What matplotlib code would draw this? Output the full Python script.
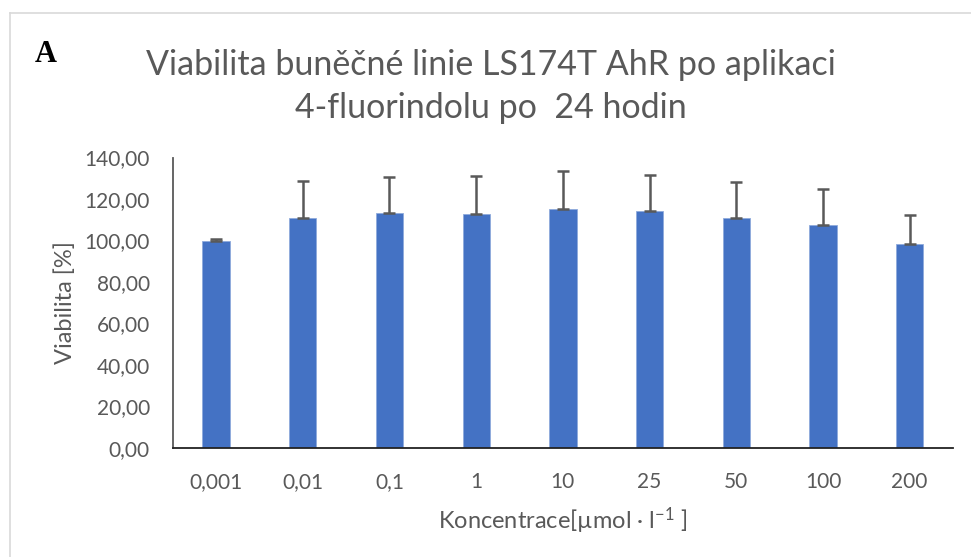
import matplotlib
matplotlib.use("Agg")
import matplotlib.pyplot as plt
from matplotlib.lines import Line2D

categories = ["0,001", "0,01", "0,1", "1", "10", "25", "50", "100", "200"]
viability = [100.0, 110.7, 113.3, 112.6, 115.2, 114.1, 110.8, 107.3, 98.2]
err_plus = [0.5, 18.0, 17.4, 18.6, 18.2, 17.5, 17.2, 17.5, 14.1]
yticks = [0, 20, 40, 60, 80, 100, 120, 140]

plt.rcParams['font.family'] = ['Lato', 'DejaVu Sans']
plt.rcParams['mathtext.fontset'] = 'custom'
plt.rcParams['mathtext.rm'] = 'Lato'
plt.rcParams['mathtext.default'] = 'regular'

gray = "#595959"
fig = plt.figure(figsize=(9.71, 5.57), dpi=100)
ax = fig.add_axes([0.1779, 0.1957, 0.8036, 0.5215])

x = list(range(len(categories)))
ax.bar(x, viability, width=0.315, color="#4472C4", edgecolor="#8FAADC", linewidth=0.6, zorder=2)
ax.errorbar(x, viability, yerr=[[0]*len(x), err_plus], fmt='none', ecolor=gray,
            elinewidth=1.8, capsize=4.3, capthick=1.8, zorder=3)

ax.set_xlim(-0.5, len(categories) - 0.5)
ax.set_ylim(0, 140)
ax.set_yticks(yticks)
ax.set_yticklabels([f"{v:.2f}".replace(".", ",") for v in yticks])
ax.set_xticks(x)
ax.set_xticklabels(categories)
ax.tick_params(axis='both', length=0, labelsize=15, colors=gray)
ax.tick_params(axis='y', pad=16.5)
ax.tick_params(axis='x', pad=17)
for s in ['top', 'right']:
    ax.spines[s].set_visible(False)
ax.spines['left'].set_color(gray)
ax.spines['left'].set_linewidth(1.3)
ax.spines['bottom'].set_color("#222222")
ax.spines['bottom'].set_linewidth(1.3)

ax.set_ylabel("Viabilita [%]", fontsize=17, color=gray, labelpad=6)
ax.set_xlabel("Koncentrace[µmol · l$^{-1}$ ]", fontsize=17, color=gray, labelpad=10)

fig.text(0.506, 0.883, "Viabilita buněčné linie LS174T AhR po aplikaci", ha='center', va='center',
         fontsize=24.5, color=gray)
fig.text(0.506, 0.806, "4-fluorindolu po  24 hodin", ha='center', va='center',
         fontsize=24.5, color=gray)
fig.text(0.036, 0.903, "A", ha='left', va='center', fontsize=22, fontweight='bold',
         family=['Liberation Serif', 'DejaVu Serif'], color='black')

# light border of the chart area
fig.add_artist(Line2D([10/971, 10/971], [0, 1 - 12.5/557], transform=fig.transFigure, color="#D9D9D9", lw=1.2))
fig.add_artist(Line2D([10/971, 1], [1 - 12.5/557, 1 - 12.5/557], transform=fig.transFigure, color="#D9D9D9", lw=1.2))

fig.savefig("out.png", dpi=100)
